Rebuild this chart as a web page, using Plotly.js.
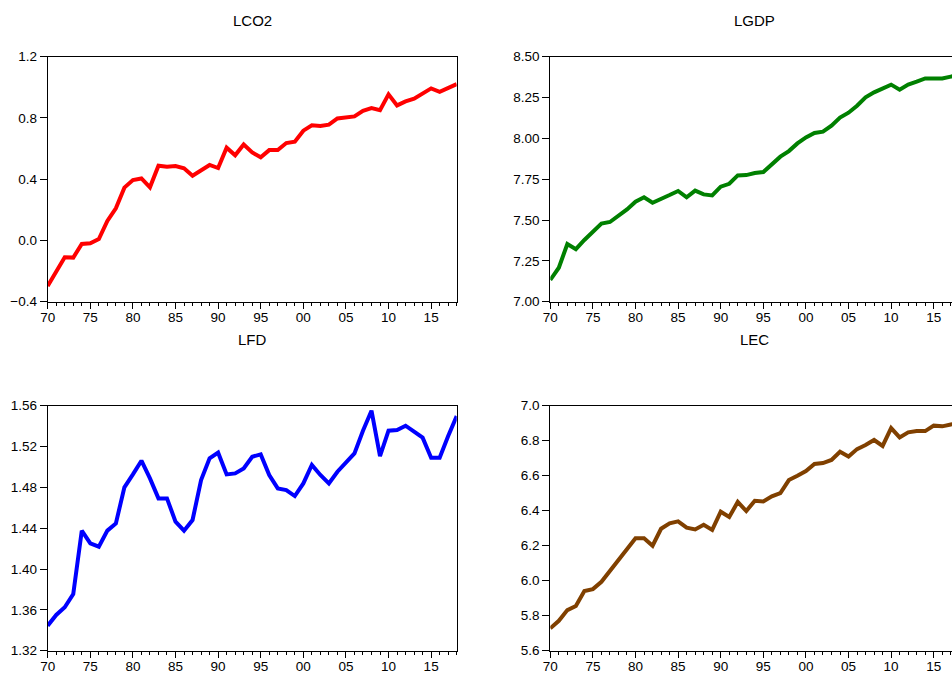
<!DOCTYPE html>
<html>
<head>
<meta charset="utf-8">
<script src="https://cdn.plot.ly/plotly-3.0.1.min.js"></script>
<style>
html,body{margin:0;padding:0;overflow:hidden;background:#fff;width:952px;height:675px;}
#chart{width:1000px;height:675px;}
</style>
</head>
<body>
<div id="chart"></div>
<script>
const years = [1970,1971,1972,1973,1974,1975,1976,1977,1978,1979,1980,1981,1982,1983,1984,1985,1986,1987,1988,1989,1990,1991,1992,1993,1994,1995,1996,1997,1998,1999,2000,2001,2002,2003,2004,2005,2006,2007,2008,2009,2010,2011,2012,2013,2014,2015,2016,2017,2018];
const tickYears = [1970,1975,1980,1985,1990,1995,2000,2005,2010,2015];
const tickLabels = ['70','75','80','85','90','95','00','05','10','15'];

const lco2 = [-0.298,-0.204,-0.110,-0.112,-0.023,-0.019,0.009,0.127,0.210,0.345,0.394,0.405,0.347,0.488,0.482,0.486,0.471,0.423,0.455,0.493,0.473,0.606,0.556,0.627,0.575,0.543,0.590,0.590,0.636,0.645,0.717,0.752,0.747,0.756,0.797,0.804,0.810,0.847,0.865,0.851,0.954,0.882,0.908,0.926,0.956,0.993,0.971,0.998,1.021];
const lgdp = [7.133,7.208,7.353,7.322,7.378,7.424,7.478,7.488,7.527,7.565,7.612,7.639,7.606,7.627,7.653,7.678,7.639,7.680,7.657,7.651,7.704,7.722,7.773,7.775,7.788,7.794,7.843,7.888,7.922,7.969,8.006,8.033,8.041,8.078,8.127,8.157,8.200,8.251,8.282,8.304,8.329,8.298,8.329,8.347,8.367,8.367,8.367,8.378,8.390];
const lfd = [1.3445,1.355,1.3625,1.3755,1.4376,1.4251,1.4219,1.4376,1.4447,1.480,1.4927,1.5061,1.4888,1.4692,1.4692,1.4464,1.4376,1.448,1.4872,1.5084,1.514,1.4927,1.4937,1.4986,1.510,1.5123,1.4921,1.479,1.4774,1.4715,1.4839,1.5019,1.4921,1.4839,1.4953,1.5042,1.5133,1.5355,1.5551,1.5107,1.5355,1.5362,1.5404,1.5345,1.5287,1.5091,1.5091,1.5303,1.5499];
const lec = [5.728,5.771,5.832,5.855,5.941,5.952,5.994,6.057,6.124,6.185,6.242,6.242,6.200,6.297,6.328,6.339,6.303,6.293,6.320,6.290,6.394,6.364,6.450,6.398,6.457,6.453,6.482,6.501,6.575,6.600,6.627,6.667,6.672,6.690,6.737,6.710,6.752,6.775,6.804,6.770,6.872,6.819,6.848,6.855,6.855,6.886,6.882,6.893,6.900];

const titles = ['LCO2','LGDP','LFD','LEC'];
const series = [lco2, lgdp, lfd, lec];
const colors = ['#ff0000','#008000','#0000ff','#804000'];
const yRanges = [[-0.4,1.2],[7.0,8.5],[1.32,1.56],[5.6,7.0]];
const yDticks = [0.4,0.25,0.04,0.2];
const yFormats = ['.1f','.2f','.2f','.1f'];

const W = 1000, H = 675;
const xDomains = [[47.7/W,456.7/W],[550.3/W,959.3/W],[47.7/W,456.7/W],[550.3/W,959.3/W]];
const yDomains = [[1-301.7/H,1-56.7/H],[1-301.7/H,1-56.7/H],[1-650.7/H,1-405.7/H],[1-650.7/H,1-405.7/H]];
const titleY = [21,21,340,340];

const font = {family:'Arial, Liberation Sans, sans-serif', size:13.5, color:'#000'};
const traces = [];
const layout = {
  width:W, height:H,
  margin:{l:0,r:0,t:0,b:0},
  paper_bgcolor:'#fff', plot_bgcolor:'#fff',
  showlegend:false,
  font:font,
  annotations:[]
};

for (let i=0;i<4;i++){
  const n = i===0 ? '' : String(i+1);
  traces.push({
    x:years, y:series[i], type:'scatter', mode:'lines',
    line:{color:colors[i], width:4},
    xaxis:'x'+n, yaxis:'y'+n, hoverinfo:'skip'
  });
  layout['xaxis'+n] = {
    domain:xDomains[i], anchor:'y'+n,
    range:[1970,2018], tickmode:'array', tickvals:tickYears, ticktext:tickLabels,
    ticks:'outside', ticklen:6, tickcolor:'#000', tickwidth:1, ticklabelstandoff:-3,
    minor:{tickmode:'linear', tick0:1970, dtick:1, ticks:'outside', ticklen:3, tickcolor:'#000', tickwidth:1, showgrid:false},
    showline:true, linecolor:'#000', linewidth:1, mirror:true,
    showgrid:false, zeroline:false, tickfont:font, fixedrange:true
  };
  layout['yaxis'+n] = {
    domain:yDomains[i], anchor:'x'+n,
    range:yRanges[i], tickmode:'linear', tick0:yRanges[i][0], dtick:yDticks[i], tickformat:yFormats[i],
    ticks:'outside', ticklen:7, tickcolor:'#000', tickwidth:1,
    showline:true, linecolor:'#000', linewidth:1, mirror:true,
    showgrid:false, zeroline:false, tickfont:font, fixedrange:true
  };
  layout.annotations.push({
    text:titles[i], xref:'paper', yref:'paper',
    x:(xDomains[i][0]+xDomains[i][1])/2, y:1-titleY[i]/H,
    xanchor:'center', yanchor:'middle', showarrow:false,
    font:{family:'Arial, Liberation Sans, sans-serif', size:15, color:'#000'}
  });
}

Plotly.newPlot('chart', traces, layout, {staticPlot:true, displayModeBar:false});
</script>
</body>
</html>
